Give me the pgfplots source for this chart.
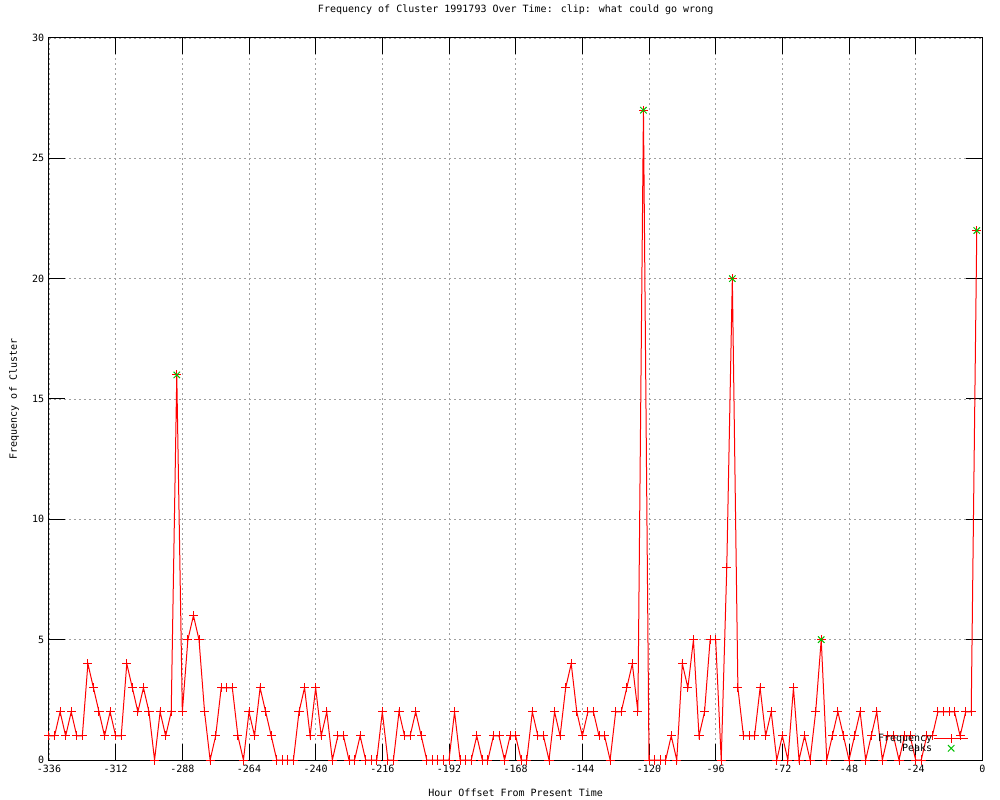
\documentclass[border=0pt]{standalone}
\usepackage{fontspec}
\setmainfont{DejaVu Sans Mono}
\usepackage{pgfplots}
\usepackage{pgfplotstable}
\pgfplotsset{compat=1.18}
\definecolor{gpgreen}{RGB}{0,192,0}
\definecolor{gpred}{RGB}{255,0,0}
\pgfplotstableread{
h v
-336 1
-334 1
-332 2
-330 1
-328 2
-326 1
-324 1
-322 4
-320 3
-318 2
-316 1
-314 2
-312 1
-310 1
-308 4
-306 3
-304 2
-302 3
-300 2
-298 0
-296 2
-294 1
-292 2
-290 16
-288 2
-286 5
-284 6
-282 5
-280 2
-278 0
-276 1
-274 3
-272 3
-270 3
-268 1
-266 0
-264 2
-262 1
-260 3
-258 2
-256 1
-254 0
-252 0
-250 0
-248 0
-246 2
-244 3
-242 1
-240 3
-238 1
-236 2
-234 0
-232 1
-230 1
-228 0
-226 0
-224 1
-222 0
-220 0
-218 0
-216 2
-214 0
-212 0
-210 2
-208 1
-206 1
-204 2
-202 1
-200 0
-198 0
-196 0
-194 0
-192 0
-190 2
-188 0
-186 0
-184 0
-182 1
-180 0
-178 0
-176 1
-174 1
-172 0
-170 1
-168 1
-166 0
-164 0
-162 2
-160 1
-158 1
-156 0
-154 2
-152 1
-150 3
-148 4
-146 2
-144 1
-142 2
-140 2
-138 1
-136 1
-134 0
-132 2
-130 2
-128 3
-126 4
-124 2
-122 27
-120 0
-118 0
-116 0
-114 0
-112 1
-110 0
-108 4
-106 3
-104 5
-102 1
-100 2
-98 5
-96 5
-94 0
-92 8
-90 20
-88 3
-86 1
-84 1
-82 1
-80 3
-78 1
-76 2
-74 0
-72 1
-70 0
-68 3
-66 0
-64 1
-62 0
-60 2
-58 5
-56 0
-54 1
-52 2
-50 1
-48 0
-46 1
-44 2
-42 0
-40 1
-38 2
-36 0
-34 1
-32 1
-30 0
-28 1
-26 1
-24 0
-22 0
-20 1
-18 1
-16 2
-14 2
-12 2
-10 2
-8 1
-6 2
-4 2
-2 22
}\freqdata
\pgfplotstableread{
h v
-290 16
-122 27
-90 20
-58 5
-2 22
}\peakdata
\begin{document}
\fontsize{7.5}{9}\selectfont
\begin{tikzpicture}
\useasboundingbox (-36.75pt,-30pt) rectangle (713.25pt,570pt);
\begin{axis}[
  at={(0,0)}, anchor=south west,
  scale only axis,
  width=700pt, height=541.5pt,
  xmin=-336, xmax=0, ymin=0, ymax=30,
  xtick={-336,-312,...,0},
  ytick={0,5,...,30},
  tick align=inside,
  major tick length=12pt,
  axis line style={black, line width=0.75pt},
  tick style={black, line width=0.75pt},
  grid=major,
  major grid style={gray!75, line width=0.6pt, dash pattern=on 1.5pt off 2.25pt},
  /pgf/number format/assume math mode=true,
  /pgf/number format/1000 sep={},
  tick label style={font=\fontsize{7.5}{9}\selectfont},
  xticklabel style={yshift=-1pt},
  yticklabel style={xshift=-1pt},
  title={Frequency of Cluster 1991793 Over Time: clip: what could go wrong},
  title style={at={(axis description cs:0.5,1.0277)}, anchor=center, font=\fontsize{7.5}{9}\selectfont},
  xlabel={Hour Offset From Present Time},
  xlabel style={at={(axis description cs:0.5,-0.0457)}, anchor=center, font=\fontsize{7.5}{9}\selectfont},
  ylabel={Frequency of Cluster},
  ylabel style={at={(axis description cs:-0.0375,0.5)}, anchor=center, rotate=0, font=\fontsize{7.5}{9}\selectfont},
  clip=false,
  legend style={at={(axis description cs:0.99,0.004)}, anchor=south east, draw=none, fill=none,
    font=\fontsize{7.5}{9}\selectfont, row sep=-1.5pt, nodes={inner sep=1pt}},
  legend cell align=right,
  legend plot pos=right,
]
\addplot[gpred, line width=0.75pt, no markers,
  error bars/.cd, x dir=both, x fixed=1.63, y dir=both, y fixed=0.188,
  error mark=none, error bar style={gpred, line width=0.75pt},
  /pgfplots/legend image code/.code={\draw[gpred, line width=0.75pt] (0cm,0cm) -- (0.9cm,0cm); \draw[gpred, line width=0.75pt] (0.45cm,-3.4pt) -- (0.45cm,3.4pt);}] table[x=h, y=v] {\freqdata};
\addlegendentry{Frequency}
\addplot[gpgreen, only marks, mark=x, mark size=3.4pt, line width=0.75pt,
  legend image code/.code={\draw[gpgreen, line width=0.75pt] (0.45cm-2.4pt,-2.4pt) -- (0.45cm+2.4pt,2.4pt) (0.45cm-2.4pt,2.4pt) -- (0.45cm+2.4pt,-2.4pt);}] table[x=h, y=v] {\peakdata};
\addlegendentry{Peaks}
\end{axis}
\end{tikzpicture}
\end{document}
